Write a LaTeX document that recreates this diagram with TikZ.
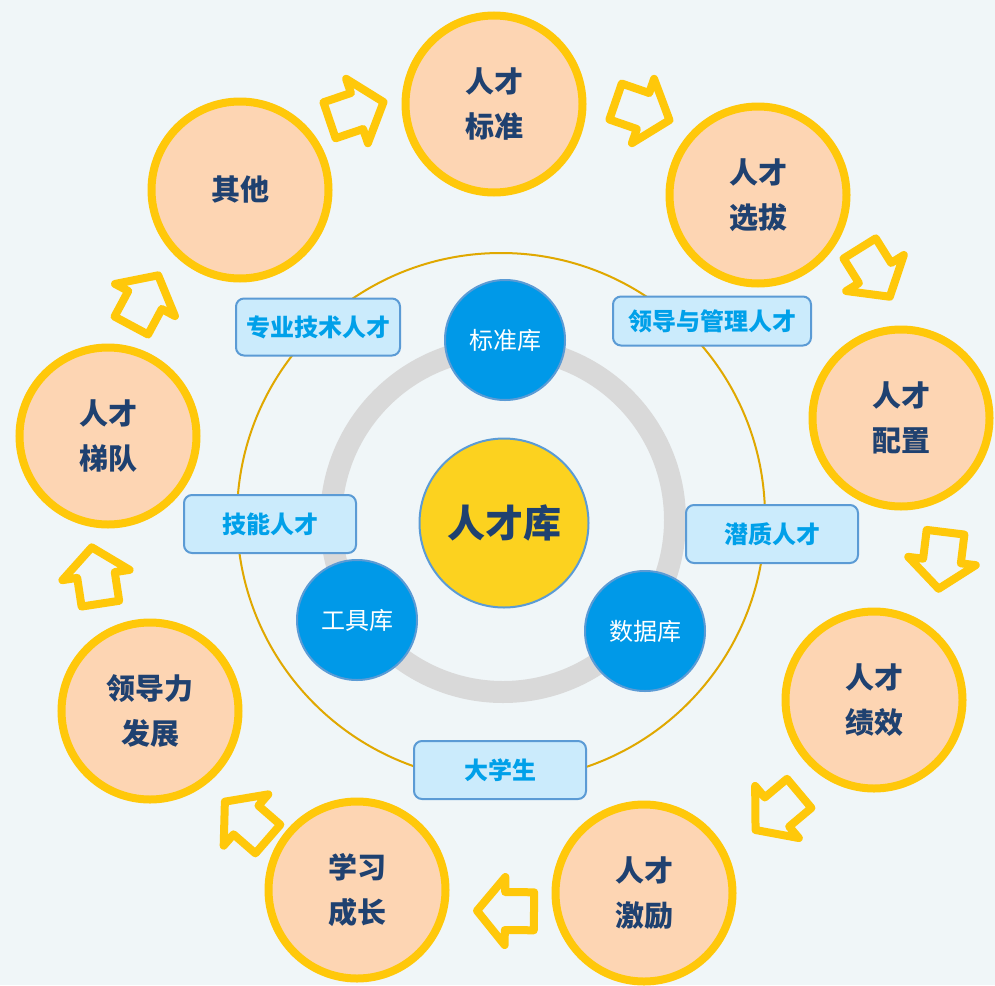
\documentclass[tikz,border=0pt]{standalone}
\usepackage{fontspec}
\newfontfamily\cjk{Noto Sans CJK SC}
\definecolor{bgC}{HTML}{F0F6F8}
\definecolor{ringY}{HTML}{FFC80A}
\definecolor{peachF}{HTML}{FDD5B3}
\definecolor{darkT}{HTML}{1F4170}
\definecolor{goldL}{HTML}{E0A800}
\definecolor{grayR}{HTML}{D9D9D9}
\definecolor{blueF}{HTML}{0099E8}
\definecolor{blueB}{HTML}{5B9BD5}
\definecolor{labF}{HTML}{CBEBFC}
\definecolor{labT}{HTML}{00A0E9}
\definecolor{coreF}{HTML}{FCD21F}
\tikzset{
  peach/.style={circle, draw=ringY, line width=8pt, fill=peachF, minimum size=177pt,
    inner sep=0pt, align=center, text=darkT, font=\cjk\bfseries\fontsize{29}{45}\selectfont},
  libnode/.style={circle, draw=blueB, line width=2pt, fill=blueF, minimum size=120pt,
    inner sep=0pt, text=white, font=\cjk\fontsize{24}{28}\selectfont},
  corenode/.style={circle, draw=blueB, line width=2pt, fill=coreF, minimum size=169pt,
    inner sep=0pt, text=darkT, font=\cjk\bfseries\fontsize{38}{44}\selectfont},
  tag/.style={rectangle, rounded corners=8pt, draw=blueB, line width=2pt, fill=labF,
    minimum width=172pt, minimum height=58pt, inner sep=0pt, text=labT,
    font=\cjk\bfseries\fontsize{24}{28}\selectfont},
  arrowS/.style={draw=ringY, line width=8pt, line join=round},
  blockarrow/.pic={\draw[arrowS] (-29,-19) -- (0,-19) -- (0,-34) -- (28,0) -- (0,34) -- (0,19) -- (-29,19) -- cycle;}
}
\begin{document}
\begin{tikzpicture}[x=1pt,y=-1pt]
\useasboundingbox (0,0) rectangle (995,985);
\fill[bgC] (0,0) rectangle (995,985);

% outer thin ring
\node[circle, draw=goldL, line width=2pt, minimum size=528pt, inner sep=0pt] (outer) at (501,517) {};
% gray ring
\node[circle, draw=grayR, line width=22pt, minimum size=344pt, inner sep=0pt] (grayring) at (503,520) {};

% library nodes
\node[libnode] (std) at (505,340) {标准库};
\node[libnode] (tool) at (357,620) {工具库};
\node[libnode] (data) at (645,631) {数据库};
\node[corenode] (core) at (504,523) {人才库};

% tags
\node[tag, minimum width=164pt, minimum height=57pt] (t1) at (318,327) {专业技术人才};
\node[tag, minimum width=198pt, minimum height=49pt] (t2) at (712,321) {领导与管理人才};
\node[tag] (t3) at (270,524) {技能人才};
\node[tag] (t4) at (772,534) {潜质人才};
\node[tag] (t5) at (500,770) {大学生};

% outer stage circles
\node[peach] (c1) at (494,104) {人才\\标准};
\node[peach] (c2) at (758,195) {人才\\选拔};
\node[peach] (c3) at (901,418) {人才\\配置};
\node[peach] (c4) at (874,700) {人才\\绩效};
\node[peach] (c5) at (644,893) {人才\\激励};
\node[peach] (c6) at (357,890) {学习\\成长};
\node[peach] (c7) at (150,711) {领导力\\发展};
\node[peach] (c8) at (108,436) {人才\\梯队};
\node[peach] (c9) at (240,190) {其他};

% block arrows
\pic[rotate=18.7] at (357,111) {blockarrow};
\pic[rotate=-19] at (643,111) {blockarrow};
\pic[rotate=-58] at (875,273) {blockarrow};
\pic[rotate=-97] at (942,561) {blockarrow};
\pic[rotate=-140] at (777,812) {blockarrow};
\pic[rotate=179.4] at (505,911) {blockarrow};
\pic[rotate=139] at (246,820) {blockarrow};
\pic[rotate=98.7] at (96,575) {blockarrow};
\pic[rotate=61.8] at (145,300) {blockarrow};
\end{tikzpicture}
\end{document}
